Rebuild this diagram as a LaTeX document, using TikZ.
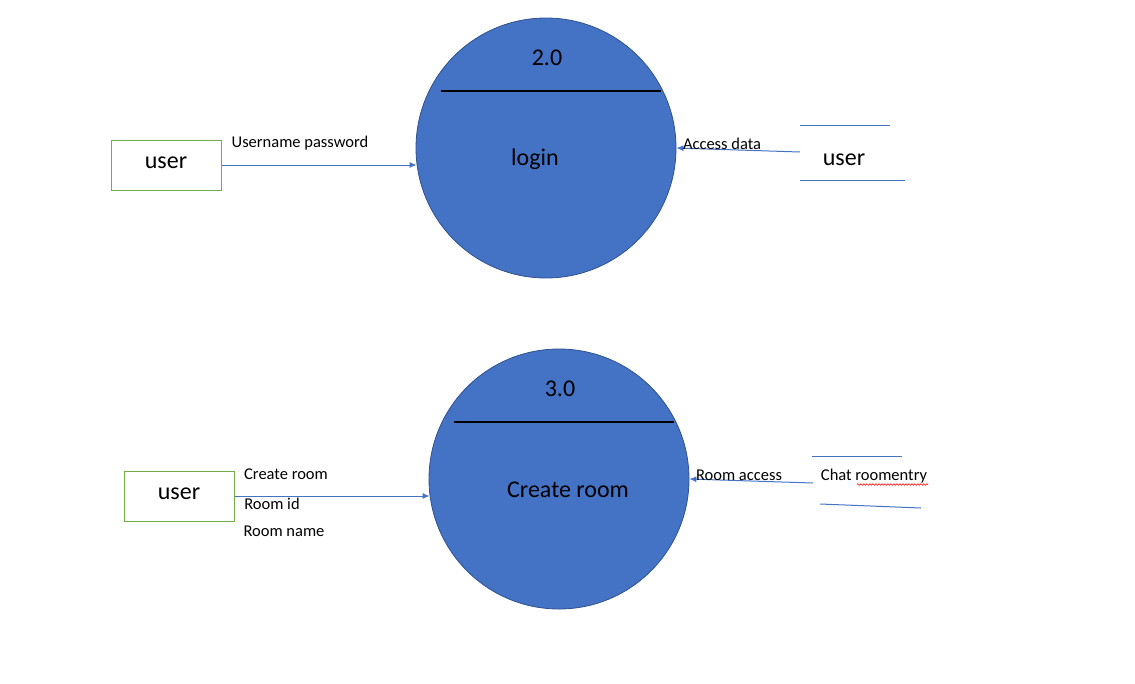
\documentclass[tikz,border=0pt]{standalone}
\usepackage{fontspec}
\setmainfont{Carlito}
\usetikzlibrary{arrows.meta,decorations.pathmorphing}
\definecolor{pfill}{HTML}{4472C4}
\definecolor{pdraw}{HTML}{2F528F}
\definecolor{ebox}{HTML}{70AD47}
\tikzset{
  process/.style={circle,minimum size=260pt,inner sep=0pt,fill=pfill,draw=pdraw,line width=0.8pt},
  entity/.style={draw=ebox,line width=1pt,minimum width=110pt,minimum height=50pt,inner sep=0pt,font=\fontsize{24}{28}\selectfont},
  big/.style={inner sep=0pt,font=\fontsize{24}{28}\selectfont},
  small/.style={inner sep=0pt,font=\fontsize{16.5}{19}\selectfont},
  flow/.style={draw=pfill,line width=1pt,-{Latex[length=7pt,width=6pt]}},
  storeline/.style={draw=pfill,line width=1pt},
  divider/.style={draw=black,line width=2pt}
}
\begin{document}
\begin{tikzpicture}[x=1pt,y=-1pt]
\useasboundingbox (0,0) rectangle (1135,683);
% processes
\node[process] (p1) at (546,148) {};
\node[process] (p2) at (559,479) {};
\draw[divider] (441,91) -- (661,91);
\draw[divider] (454,422) -- (674,422);
\node[big] (n1) at (547,58) {2.0};
\node[big] (l1) at (535,159) {login};
\node[big] (n2) at (560,389) {3.0};
\node[big] (l2) at (568,490) {Create room};
% entities
\node[entity] (u1) at (166,165) {\raisebox{4pt}{user}};
\node[entity] (u2) at (179,496) {\raisebox{4pt}{user}};
% data stores
\draw[storeline] (800,125) -- (890,125);
\draw[storeline] (800,180) -- (905,180);
\node[big] (s1) at (844,160) {user};
\coordinate (s1in) at (800,152);
\draw[storeline] (812,456) -- (902,456);
\draw[storeline] (820,504) -- (921,508);
\node[small] (s2) at (874,476) {Chat roomentry};
\draw[red,line width=0.6pt,decorate,decoration={snake,amplitude=0.8pt,segment length=3pt}] (857,484.5) -- (928,484.5);
\coordinate (s2in) at (813,483);
% flows
\draw[flow] (u1.east) -- (p1.187.5 |- u1.east);
\draw[flow] (u2.east) -- (p2.187.5 |- u2.east);
\draw[flow] (s1in) -- (p1.east);
\draw[flow] (s2in) -- (p2.east);
% labels
\node[small] at (300,143) {Username password};
\node[small] at (722,144) {Access data};
\node[small] at (286,474) {Create room};
\node[small] at (272,504) {Room id};
\node[small] at (284,531) {Room name};
\node[small] at (739,475) {Room access};
\end{tikzpicture}
\end{document}
